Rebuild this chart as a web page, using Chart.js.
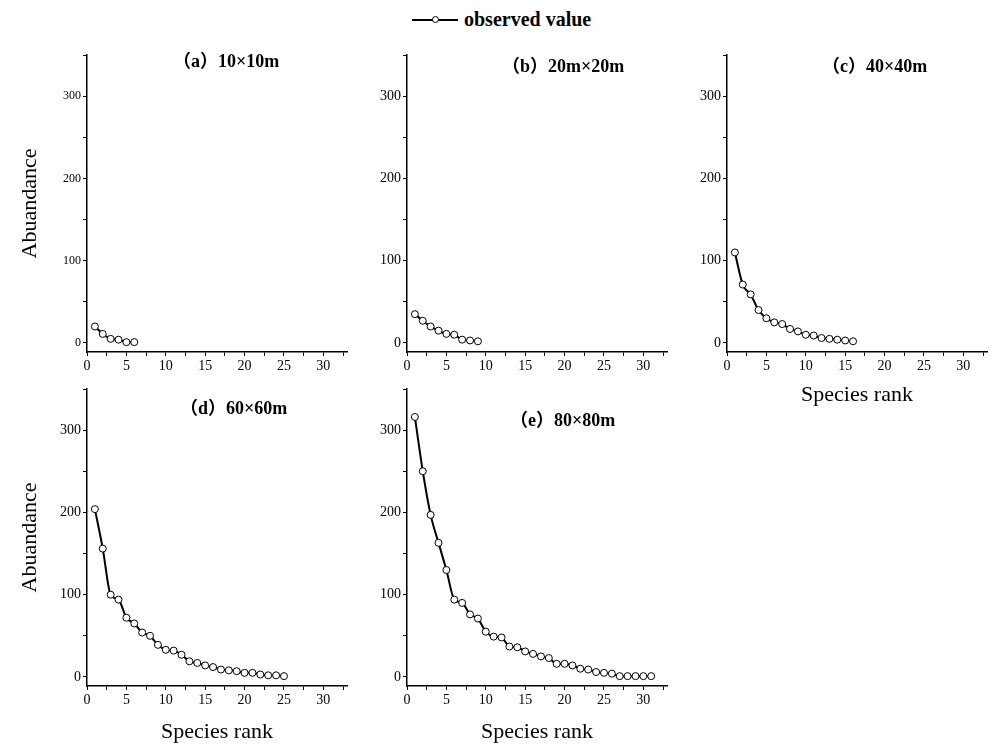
<!DOCTYPE html>
<html>
<head>
<meta charset="utf-8">
<script src="https://cdn.jsdelivr.net/npm/chart.js@4.4.0/dist/chart.umd.min.js"></script>
<style>
  body { margin: 0; background: #fff; width: 992px; height: 747px; position: relative; overflow: hidden; }
  canvas.panel { position: absolute; }
  #legend { position: absolute; left: 412px; top: 8px; height: 23px; display: flex; align-items: center;
            font: bold 20px "Liberation Serif", serif; color: #000; }
  #legend .key { position: relative; width: 46px; height: 2px; background: #000; margin-right: 6px; }
  #legend .dot { position: absolute; left: 20px; top: -3px; width: 7px; height: 7px; box-sizing: border-box;
                 border: 1px solid #000; border-radius: 50%; background: #fff; }
</style>
</head>
<body>
<div id="legend"><span class="key"><span class="dot"></span></span><span>observed value</span></div>
<canvas id="panelA" class="panel"></canvas>
<canvas id="panelB" class="panel"></canvas>
<canvas id="panelC" class="panel"></canvas>
<canvas id="panelD" class="panel"></canvas>
<canvas id="panelE" class="panel"></canvas>
<script>
// abundance of each species, ordered by rank (rank 1 = most abundant)
const abundanceA = [20, 11, 5, 4, 1, 1];
const abundanceB = [35, 27, 20, 15, 11, 10, 4, 3, 2];
const abundanceC = [110, 71, 59, 40, 30, 25, 23, 17, 14, 10, 9, 6, 5, 4, 3, 2];
const abundanceD = [204, 156, 100, 94, 72, 65, 54, 50, 39, 33, 32, 27, 19, 17, 14, 12, 9, 8, 7, 5, 5, 3, 2, 2, 1];
const abundanceE = [316, 250, 197, 163, 130, 94, 90, 76, 71, 55, 49, 48, 37, 36, 31, 28, 25, 23, 16, 16, 14, 10, 9, 6, 5, 4, 1, 1, 1, 1, 1];

const panelTitles = ['（a）10×10m', '（b）20m×20m', '（c）40×40m', '（d）60×60m', '（e）80×80m'];
const xLabel = 'Species rank';
const yLabel = 'Abuandance';

const SERIF = '"Liberation Serif", "Times New Roman", serif';
const PLOT_W = 265, PLOT_H = 297, TOP_PAD = 20;
const colLeft = [87, 407, 727];
const rowTop = [55, 389];

// small plugin: bold panel caption inside the plot area
const panelTitlePlugin = {
  id: 'panelTitle',
  afterDraw(chart, args, opts) {
    const { ctx, chartArea } = chart;
    ctx.save();
    ctx.font = 'bold 18px "Liberation Serif", "Noto Sans CJK SC", serif';
    ctx.fillStyle = '#000';
    ctx.textBaseline = 'middle';
    ctx.textAlign = 'left';
    ctx.fillText(opts.text, chartArea.left + opts.dx, chartArea.top + opts.dy);
    ctx.restore();
  }
};

function makePanel(id, values, title, col, row, opts) {
  const yW = col === 0 ? 82 : 40;
  const xH = opts.xTitle ? 60 : 30;
  const canvas = document.getElementById(id);
  canvas.width = yW + PLOT_W;
  canvas.height = TOP_PAD + PLOT_H + xH;
  canvas.style.left = (colLeft[col] - yW) + 'px';
  canvas.style.top = (rowTop[row] - TOP_PAD) + 'px';

  const points = values.map((v, i) => ({ x: i + 1, y: v }));

  return new Chart(canvas.getContext('2d'), {
    type: 'line',
    data: {
      datasets: [{
        label: 'observed value',
        data: points,
        borderColor: '#000',
        borderWidth: 2,
        cubicInterpolationMode: 'monotone',
        pointRadius: 3.5,
        pointBorderWidth: 1,
        pointBackgroundColor: '#fff',
        pointBorderColor: '#000',
        fill: false
      }]
    },
    options: {
      responsive: false,
      animation: false,
      layout: { padding: { top: TOP_PAD, left: 0, right: 0, bottom: 0 } },
      plugins: {
        legend: { display: false },
        tooltip: { enabled: false },
        panelTitle: { text: title, dx: opts.dx, dy: opts.dy }
      },
      scales: {
        x: {
          type: 'linear',
          min: 0,
          max: 33,
          grid: { drawOnChartArea: false, drawTicks: true, tickLength: 4, color: '#000', lineWidth: 1 },
          border: { display: true, color: '#000', width: 1.5 },
          ticks: {
            stepSize: 2.5,
            includeBounds: false,
            autoSkip: false,
            maxRotation: 0,
            padding: 2,
            color: '#000',
            font: { family: SERIF, size: 14 },
            callback: v => (v % 5 === 0 ? String(v) : '')
          },
          title: {
            display: !!opts.xTitle,
            text: xLabel,
            color: '#000',
            font: { family: SERIF, size: 22 },
            padding: { top: 0, bottom: opts.xTitlePad || 0 }
          },
          afterFit(scale) {
            scale.height = xH;
            scale.paddingLeft = 0;
            scale.paddingRight = 0;
          }
        },
        y: {
          min: -11,
          max: 350,
          grid: { drawOnChartArea: false, drawTicks: true, tickLength: 4, color: '#000', lineWidth: 1 },
          border: { display: true, color: '#000', width: 1.5 },
          ticks: {
            stepSize: 50,
            includeBounds: false,
            autoSkip: false,
            padding: 2,
            color: '#000',
            font: { family: SERIF, size: opts.yTickSize || 14 },
            callback: v => (v % 100 === 0 ? String(v) : '')
          },
          title: {
            display: col === 0,
            text: yLabel,
            color: '#000',
            font: { family: SERIF, size: 22 },
            padding: { top: 12, bottom: 0 }
          },
          afterFit(scale) {
            scale.width = yW;
            scale.paddingTop = 0;
            scale.paddingBottom = 0;
          }
        }
      }
    },
    plugins: [panelTitlePlugin]
  });
}

document.addEventListener('DOMContentLoaded', function () {
  makePanel('panelA', abundanceA, panelTitles[0], 0, 0, { dx: 86, dy: 7, yTickSize: 12 });
  makePanel('panelB', abundanceB, panelTitles[1], 1, 0, { dx: 95, dy: 12 });
  makePanel('panelC', abundanceC, panelTitles[2], 2, 0, { dx: 95, dy: 12, xTitle: true, xTitlePad: 4 });
  makePanel('panelD', abundanceD, panelTitles[3], 0, 1, { dx: 93, dy: 20, xTitle: true, xTitlePad: 1 });
  makePanel('panelE', abundanceE, panelTitles[4], 1, 1, { dx: 103, dy: 32, xTitle: true, xTitlePad: 1 });
});
</script>
</body>
</html>
